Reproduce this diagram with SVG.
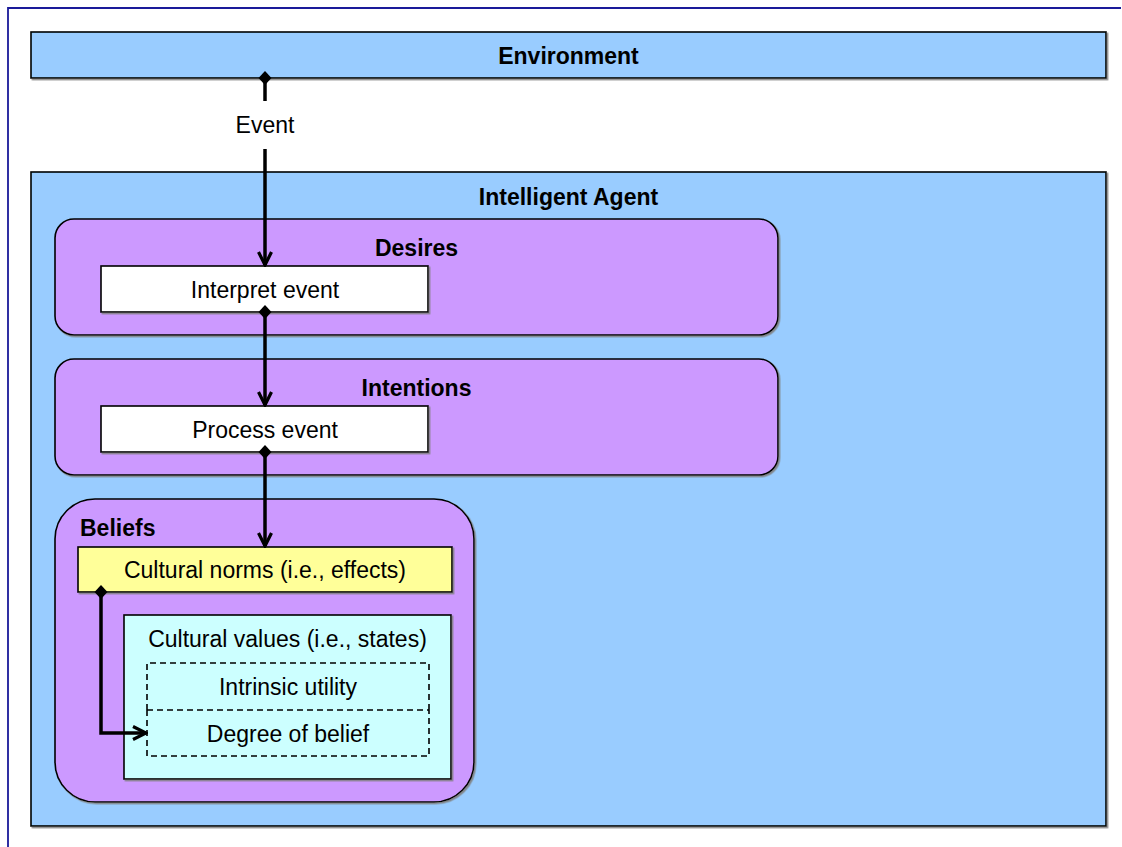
<svg xmlns="http://www.w3.org/2000/svg" width="1122" height="847" viewBox="0 0 1122 847">
  <style>
    .box { stroke: #000; stroke-width: 1.6; filter: url(#shadow); }
    .env { fill: #99CCFF; }
    .agent { fill: #99CCFF; }
    .bdi { fill: #CC99FF; }
    .act { fill: #FFFFFF; }
    .norms { fill: #FFFF99; }
    .values { fill: #CCFFFF; }
    .dashed { fill: none; stroke: #000; stroke-width: 1.6; stroke-dasharray: 6 4; }
    text { font-family: "Liberation Sans", Arial, sans-serif; font-size: 23px; fill: #000; }
    .title { font-weight: bold; }
    .mid { text-anchor: middle; }
    .wire { fill: none; stroke: #000; stroke-width: 3.5; marker-start: url(#diamond); marker-end: url(#arrow); }
  </style>
  <defs>
    <filter id="shadow" x="-5%" y="-5%" width="110%" height="110%">
      <feDropShadow dx="1.5" dy="1.5" stdDeviation="0" flood-color="#7f7f7f" flood-opacity="0.9"/>
    </filter>
    <marker id="arrow" markerUnits="userSpaceOnUse" viewBox="-16 -9 18 18" refX="0" refY="0" markerWidth="18" markerHeight="18" orient="auto">
      <path d="M-13,-6.5 L0,0 L-13,6.5" fill="none" stroke="#000" stroke-width="3.2" stroke-linejoin="miter"/>
    </marker>
    <marker id="diamond" markerUnits="userSpaceOnUse" viewBox="-8 -8 16 16" refX="0" refY="0" markerWidth="16" markerHeight="16" orient="auto">
      <path d="M-7,0 L0,-6.5 L7,0 L0,6.5 Z" fill="#000"/>
    </marker>
  </defs>

  <!-- page frame -->
  <path d="M8,847 V8 H1121" fill="none" stroke="#1a1a99" stroke-width="1.8"/>

  <g id="environment">
    <rect class="box env" x="31" y="32" width="1075" height="46"/>
    <text class="title mid" x="568.5" y="64">Environment</text>
  </g>

  <g id="intelligent-agent">
    <rect class="box agent" x="31" y="172" width="1075" height="654"/>
    <text class="title mid" x="568.5" y="205">Intelligent Agent</text>
  </g>

  <g id="desires">
    <rect class="box bdi" x="55" y="219" width="723" height="116" rx="19" ry="19"/>
    <text class="title mid" x="416.5" y="256">Desires</text>
  </g>

  <g id="interpret-event">
    <rect class="box act" x="101" y="266" width="327" height="46"/>
    <text class="mid" x="265" y="298">Interpret event</text>
  </g>

  <g id="intentions">
    <rect class="box bdi" x="55" y="359" width="723" height="116" rx="19" ry="19"/>
    <text class="title mid" x="416.5" y="396">Intentions</text>
  </g>

  <g id="process-event">
    <rect class="box act" x="101" y="406" width="327" height="46"/>
    <text class="mid" x="265" y="438">Process event</text>
  </g>

  <g id="beliefs">
    <rect class="box bdi" x="55" y="499" width="419" height="303" rx="40" ry="40"/>
    <text class="title" x="80" y="536">Beliefs</text>
  </g>

  <g id="cultural-norms">
    <rect class="box norms" x="78" y="547" width="374" height="45"/>
    <text class="mid" x="265" y="578">Cultural norms (i.e., effects)</text>
  </g>

  <g id="cultural-values">
    <rect class="box values" x="124" y="615" width="327" height="164"/>
    <text class="mid" x="287.5" y="647">Cultural values (i.e., states)</text>
  </g>

  <g id="intrinsic-utility">
    <path class="dashed" d="M147,710 V663 H429 V710"/>
    <text class="mid" x="288" y="695">Intrinsic utility</text>
  </g>

  <g id="degree-of-belief">
    <path class="dashed" d="M147,710 V756 H429 V710 M147,710 H429"/>
    <text class="mid" x="288" y="742">Degree of belief</text>
  </g>

  <g id="connectors">
    <!-- event leaves the environment, label breaks the line -->
    <path d="M265,78 V101" fill="none" stroke="#000" stroke-width="3.5" marker-start="url(#diamond)"/>
    <text class="mid" x="265" y="133">Event</text>
    <path d="M265,149 V265" fill="none" stroke="#000" stroke-width="3.5" marker-end="url(#arrow)"/>
    <path class="wire" d="M265,312 V405"/>
    <path class="wire" d="M265,452 V546"/>
    <path class="wire" d="M101,592 V733 H146"/>
  </g>
</svg>
